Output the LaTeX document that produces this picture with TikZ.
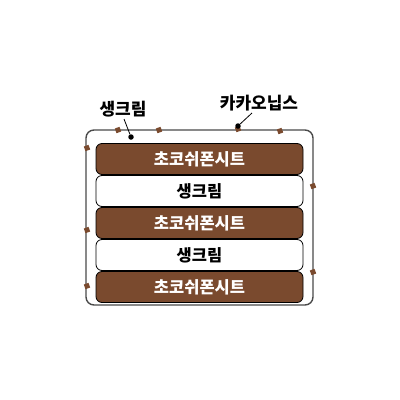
\documentclass[tikz,border=0pt]{standalone}
\usepackage{fontspec}
\newfontfamily\kr{Noto Sans CJK KR}
\definecolor{choco}{HTML}{7A4A2E}
\definecolor{frame}{HTML}{4A4A4A}
\begin{document}
\begin{tikzpicture}[x=1pt,y=-1pt,
  layer/.style={draw=black,line width=0.8pt,rounded corners=6pt,minimum width=207pt,minimum height=31pt,inner sep=0pt,font=\kr\bfseries\fontsize{16.5}{16.5}\selectfont},
  cake/.style={layer,fill=choco,text=white},
  cream/.style={layer,fill=white,text=black},
  nib/.style={rectangle,fill=choco,minimum size=5pt,inner sep=0pt,rotate=20},
  lbl/.style={font=\kr\bfseries\fontsize{17}{17}\selectfont,inner sep=0pt},
  pin/.style={circle,fill=black,minimum size=5.5pt,inner sep=0pt}]
\useasboundingbox (0,0) rectangle (400,400);
\draw[frame,line width=1.4pt,rounded corners=8pt] (86,130) rectangle (313,305);
\node[cake]  (l1) at (199.5,159) {초코쉬폰시트};
\node[cream] (l2) at (199.5,191) {생크림};
\node[cake]  (l3) at (199.5,223) {초코쉬폰시트};
\node[cream] (l4) at (199.5,255) {생크림};
\node[cake]  (l5) at (199.5,287) {초코쉬폰시트};
\foreach \p [count=\i] in {(118,130),(159,130),(238,129),(280,131),(87,148),(87,230),(87,286),(313,186),(313,272)}
  \node[nib] (n\i) at \p {};
\node[lbl] (lc) at (123,109) {생크림};
\node[lbl] (ln) at (259,103) {카카오닙스};
\node[pin] (pc) at (131,137) {};
\node[pin] (pn) at (238,126) {};
\coordinate (ac) at (124,119);
\coordinate (an) at (252,113);
\draw[line width=0.8pt] (ac) -- (pc);
\draw[line width=0.8pt] (an) -- (pn);
\end{tikzpicture}
\end{document}
